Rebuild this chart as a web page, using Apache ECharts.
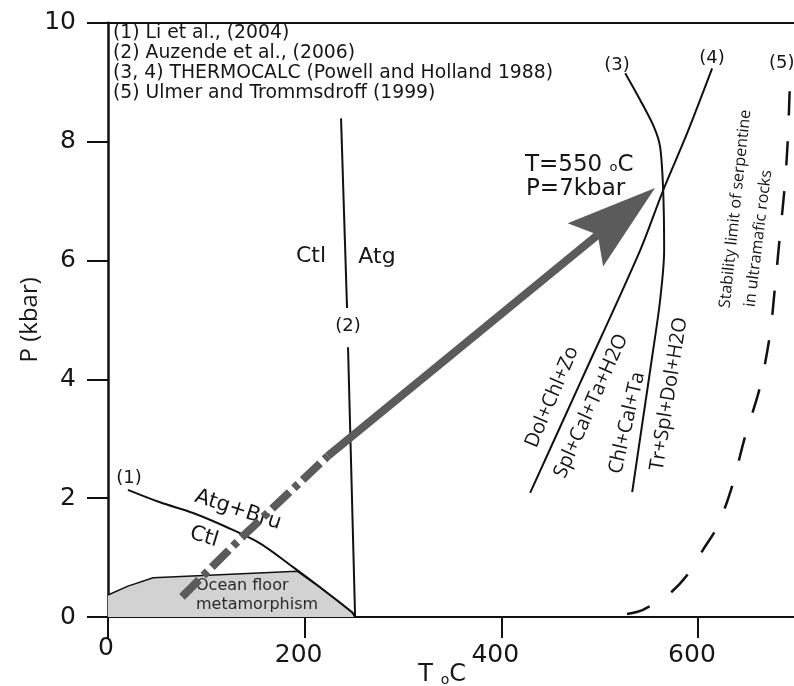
<!DOCTYPE html>
<html><head><meta charset="utf-8">
<script src="https://cdn.jsdelivr.net/npm/echarts@6/dist/echarts.min.js"></script>
<style>html,body{margin:0;padding:0;background:#fff}#c{width:794px;height:686px}</style>
</head><body><div id="c"></div>
<script>
// ---- data (T in °C, P in kbar) ----
const xTicks = [0, 200, 400, 600];
const yTicks = [0, 2, 4, 6, 8, 10];
const curve1 = [[20.3,2.14],[52.9,1.93],[86.5,1.75],[121,1.51],[154.6,1.24],[188.2,0.84],[215.7,0.50],[248.2,0.08],[251.3,0]];
const line2Upper = [[237,8.39],[243.1,5.20]];
const line2Lower = [[244.1,4.54],[251.3,0]];
const oceanFloor = [[0,0.37],[20.3,0.52],[46,0.66],[192.3,0.77],[215.7,0.50],[248.2,0.08],[251.3,0]];
const curve3 = [[526,9.15],[541.2,8.70],[555.4,8.24],[561.5,7.91],[564.6,7.18],[565.6,6.17],[561.5,5.33],[554.4,4.49],[544.3,3.36],[533.1,2.10]];
const curve4 = [[614.4,9.23],[589,8.14],[564.6,7.18],[541.2,6.17],[480.2,3.94],[429.3,2.09]];
const curve5 = [[527.8,0.05],[544.1,0.12],[571.5,0.40],[589.8,0.72],[605.1,1.13],[619.3,1.51],[633.6,2.14],[647.8,3.03],[663.1,3.87],[673.2,4.75],[678.3,5.55],[683.4,6.43],[688.5,7.30],[691.6,8.11],[693.6,8.99],[694.6,9.15]];
const arrowDashed = [[75.3,0.34],[137.3,1.36],[223.7,2.71]];
const arrowSolid = [[223.7,2.71],[556.3,7.22]];
const references = ['(1) Li et al., (2004)', '(2) Auzende et al., (2006)', '(3, 4) THERMOCALC (Powell and Holland 1988)', '(5) Ulmer and Trommsdroff (1999)'];

const TXT = '#161616';
const FONT = '"DejaVu Sans"';
const FONT2 = '"Open Sans"';
const GREY = '#5b5b5b';
const D = Math.PI / 180;

function t(x, y, text, size, opt) {
  opt = opt || {};
  const style = Object.assign({
    text: text, fill: TXT, fontSize: size, fontFamily: opt.family || FONT,
    align: opt.align || 'center', verticalAlign: 'middle'
  }, opt.style || {});
  return { type: 'text', x: x, y: y, rotation: (opt.rot || 0) * D, z: opt.z == null ? 1 : opt.z, silent: true, style: style };
}

const graphics = [];
references.forEach((r, i) => graphics.push(t(113, 33 + i * 19.9, r, 18.8, { align: 'left' })));
graphics.push(
  t(129, 478, '(1)', 18),
  t(238, 510, 'Atg+Bru', 21, { rot: -18 }),
  t(204, 537, 'Ctl', 21, { rot: -17 }),
  t(311, 256, 'Ctl', 22),
  t(377, 257, 'Atg', 22),
  t(348, 326, '(2)', 18),
  t(617, 65, '(3)', 18),
  t(712, 58, '(4)', 18),
  t(769, 63, '(5)', 18, { align: 'left' }),
  t(525, 165, '{a|T=550 }{s|o}{a|C}', 23, { align: 'left', style: { rich: { a: { fontSize: 23, fontFamily: FONT, fill: TXT }, s: { fontSize: 13, fontFamily: FONT, fill: TXT, verticalAlign: 'bottom', padding: [0, 0, 2, 0] } } } }),
  t(526, 189, 'P=7kbar', 23, { align: 'left' }),
  t(552, 397, 'Dol+Chl+Zo', 20, { rot: 67, family: FONT2 }),
  t(591, 406, 'Spl+Cal+Ta+H2O', 20, { rot: 66, family: FONT2 }),
  t(627, 423, 'Chl+Cal+Ta', 20, { rot: 77, family: FONT2 }),
  t(669, 394, 'Tr+Spl+Dol+H2O', 20, { rot: 81, family: FONT2 }),
  t(725, 308, 'Stability limit of serpentine', 16, { rot: 84, align: 'left', family: FONT2 }),
  t(750, 307, 'in ultramafic rocks', 16, { rot: 83, align: 'left', family: FONT2 }),
  t(196, 586, 'Ocean floor', 16, { align: 'left', z: 4, style: { fill: '#2a2a2a' } }),
  t(196, 605, 'metamorphism', 16, { align: 'left', z: 4, style: { fill: '#2a2a2a' } })
);

const blackLine = (data, extra) => Object.assign({
  type: 'line', data: data, symbol: 'none', z: 3, silent: true,
  lineStyle: { color: '#111', width: 2 }
}, extra || {});

const chart = echarts.init(document.getElementById('c'));
chart.setOption({
  animation: false,
  backgroundColor: '#fff',
  grid: { left: 108, top: 22.7, width: 688.3, height: 594.3, outerBoundsMode: 'none', containLabel: false },
  xAxis: [{
    type: 'value', min: 0, max: 700, interval: 200,
    name: 'T {s|o}C', nameLocation: 'middle', nameGap: 46, nameMoveOverlap: false,
    nameTextStyle: { fontFamily: FONT, fontSize: 24, color: TXT, padding: [0, 20, 0, 0],
      rich: { s: { fontFamily: FONT, fontSize: 14, color: TXT, verticalAlign: 'bottom' } } },
    axisLine: { show: true, onZero: false, lineStyle: { color: '#111', width: 2 } },
    axisTick: { show: true, inside: false, length: 21, lineStyle: { color: '#111', width: 2 } },
    splitLine: { show: false },
    axisLabel: {
      show: true, margin: 19, showMaxLabel: false, fontFamily: FONT, fontSize: 25, color: TXT,
      formatter: v => xTicks.includes(v) ? (v === 0 ? '{z|0}' : '{n|' + v + '}') : '',
      rich: {
        z: { fontFamily: FONT, fontSize: 25, color: TXT, padding: [0, 4, 0, 0] },
        n: { fontFamily: FONT, fontSize: 25, color: TXT, padding: [7, 12, 0, 0] }
      }
    }
  }, {
    type: 'value', position: 'top', min: 0, max: 700,
    axisLine: { show: true, onZero: false, lineStyle: { color: '#111', width: 2 } },
    axisTick: { show: false }, axisLabel: { show: false }, splitLine: { show: false }
  }],
  yAxis: {
    type: 'value', min: 0, max: 10, interval: 2,
    name: 'P (kbar)', nameLocation: 'middle', nameGap: 66, nameMoveOverlap: false,
    nameTextStyle: { fontFamily: FONT2, fontSize: 24, color: TXT },
    axisLine: { show: true, onZero: false, lineStyle: { color: '#111', width: 2.5 } },
    axisTick: { show: true, inside: false, length: 21, lineStyle: { color: '#111', width: 2 } },
    splitLine: { show: false },
    axisLabel: { show: true, margin: 32, fontFamily: FONT, fontSize: 25, color: TXT,
      formatter: v => yTicks.includes(v) ? String(v) : '' }
  },
  series: [
    { type: 'line', data: oceanFloor, symbol: 'none', z: 2, silent: true,
      lineStyle: { color: '#111', width: 1.5 },
      areaStyle: { color: '#d2d2d2', opacity: 1 } },
    blackLine(curve1, { smooth: 0.3 }),
    blackLine(line2Upper),
    blackLine(line2Lower),
    blackLine(curve3, { smooth: 0.3 }),
    blackLine(curve4, { smooth: 0.3 }),
    blackLine(curve5, { smooth: 0.3, lineStyle: { color: '#111', width: 2.5, type: [24, 26] } }),
    {
      type: 'custom', coordinateSystem: 'cartesian2d', z: 5, silent: true,
      data: [[0, 0]],
      renderItem: function (params, api) {
        const dashed = arrowDashed.map(p => api.coord(p));
        const solid = arrowSolid.map(p => api.coord(p));
        const tip = solid[solid.length - 1];
        const prev = solid[solid.length - 2];
        const dx = tip[0] - prev[0], dy = tip[1] - prev[1];
        const len = Math.hypot(dx, dy), ux = dx / len, uy = dy / len;
        const nx = -uy, ny = ux;
        const HL = 90, HW = 28, NOTCH = 74;
        const base = [tip[0] - ux * HL, tip[1] - uy * HL];
        const notch = [tip[0] - ux * NOTCH, tip[1] - uy * NOTCH];
        const c1 = [base[0] + nx * HW, base[1] + ny * HW];
        const c2 = [base[0] - nx * HW, base[1] - ny * HW];
        const shaft = solid.slice(0, -1).concat([notch]);
        return { type: 'group', children: [
          { type: 'polyline', shape: { points: dashed }, style: { stroke: GREY, lineWidth: 8, lineDash: [24, 6, 6, 6], fill: null } },
          { type: 'polyline', shape: { points: shaft }, style: { stroke: GREY, lineWidth: 8, fill: null } },
          { type: 'polygon', shape: { points: [tip, c1, notch, c2] }, style: { fill: GREY } }
        ] };
      }
    }
  ],
  graphic: { elements: graphics }
});
</script></body></html>
